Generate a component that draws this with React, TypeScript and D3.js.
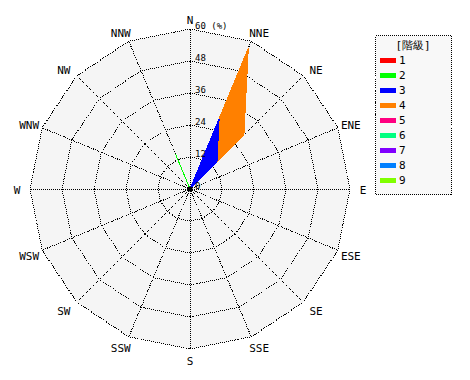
import React from "react";
import * as d3 from "d3";

const directions = ["N","NNE","NE","ENE","E","ESE","SE","SSE","S","SSW","SW","WSW","W","WNW","NW","NNW"];
const classLabels = ["1","2","3","4","5","6","7","8","9"];
const classColors = ["#ff0000","#00ff00","#0000ff","#ff8000","#ff0080","#00ff80","#8000ff","#0080ff","#80ff00"];
const ringTicks = [12, 24, 36, 48, 60];
const class1 = [0,0,0,0,0,0,0,0,0,0,0,0,0,0,0,0];
const class2 = [0,0,0,0,0,0,0,0,0,0,0,0,0,0,0,14.29];
const class3 = [0,28.57,14.29,0,0,0,0,0,0,0,0,0,0,0,0,0];
const class4 = [0,28.57,14.29,0,0,0,0,0,0,0,0,0,0,0,0,0];
const class5 = [0,0,0,0,0,0,0,0,0,0,0,0,0,0,0,0];
const class6 = [0,0,0,0,0,0,0,0,0,0,0,0,0,0,0,0];
const class7 = [0,0,0,0,0,0,0,0,0,0,0,0,0,0,0,0];
const class8 = [0,0,0,0,0,0,0,0,0,0,0,0,0,0,0,0];
const class9 = [0,0,0,0,0,0,0,0,0,0,0,0,0,0,0,0];
const classValues = [class1, class2, class3, class4, class5, class6, class7, class8, class9];

const CX = 190, CY = 189, R = 160;
const MONO = "'DejaVu Sans Mono', monospace";

export default function App() {
  const r = d3.scaleLinear().domain([0, 60]).range([0, R]);
  const ang = d3.scaleLinear().domain([0, 16]).range([0, 2 * Math.PI]);
  const pt = (i: number, v: number): [number, number] => [
    CX + r(v) * Math.sin(ang(i)),
    CY - r(v) * Math.cos(ang(i)),
  ];
  const idx = d3.range(16);
  const ringPath = (v: number) =>
    "M" + idx.map((i) => pt(i, v).join(",")).join("L") + "Z";

  const cum: number[][] = [];
  classValues.forEach((vals, k) => {
    cum.push(vals.map((v, i) => v + (k > 0 ? cum[k - 1][i] : 0)));
  });
  const radial = d3
    .lineRadial<number>()
    .angle((_, i) => ang(i))
    .radius((d) => r(d))
    .curve(d3.curveLinearClosed);

  const dotted = { stroke: "#000", strokeWidth: 1, strokeDasharray: "1,1", fill: "none", shapeRendering: "crispEdges" as const };

  return (
    <svg width={470} height={380} style={{ position: "absolute", left: 0, top: 0, background: "#fff" }}>
      <path d={ringPath(60)} fill="#f5f5f5" />
      {ringTicks.map((t) => (
        <path key={t} d={ringPath(t)} {...dotted} />
      ))}
      {idx.map((i) => {
        const [x, y] = pt(i, 60);
        return <line key={i} x1={CX} y1={CY} x2={x} y2={y} {...dotted} />;
      })}
      <g transform={`translate(${CX},${CY})`}>
        {d3.range(8, -1, -1).map((k) =>
          classValues[k].some((v) => v > 0) ? (
            <path
              key={k}
              d={radial(cum[k]) || ""}
              fill={classColors[k]}
              stroke={classColors[k]}
              strokeWidth={1}
              shapeRendering="crispEdges"
            />
          ) : null
        )}
      </g>
      <circle cx={CX} cy={CY} r={2.5} fill="#000" />
      {[0, 12, 24, 36, 48].map((t) => (
        <text key={t} x={CX + 5} y={CY - r(t)} fontFamily={MONO} fontSize={9} fill="#000">
          {t}
        </text>
      ))}
      <text x={CX + 5} y={CY - r(60)} fontFamily={MONO} fontSize={9} fill="#000">
        60 (%)
      </text>
      {directions.map((d, i) => {
        const a = ang(i);
        const s = Math.sin(a), c = Math.cos(a);
        const [vx, vy] = pt(i, 60);
        const x = vx + 13 * Math.sign(Math.round(s * 100) / 100) * Math.min(1, Math.abs(s) * 1.6);
        const y = vy - 10.5 * c + 1.5;
        return (
          <text key={d} x={x} y={y} dy="0.35em" textAnchor="middle" fontFamily={MONO} fontSize={11} fill="#000">
            {d}
          </text>
        );
      })}
      <rect x={375.5} y={35.5} width={76} height={159} fill="#f8f8f8" {...{ stroke: "#000", strokeWidth: 1, strokeDasharray: "1,1", shapeRendering: "crispEdges" }} />
      <text x={413} y={45} dy="0.35em" textAnchor="middle" fontFamily={MONO} fontSize={11} fill="#000">
        [階級]
      </text>
      {classLabels.map((l, k) => (
        <g key={l}>
          <rect x={380} y={60 + k * 15 - 2} width={16} height={5} fill={classColors[k]} />
          <text x={399} y={60 + k * 15} dy="0.35em" fontFamily={MONO} fontSize={11} fill="#000">
            {l}
          </text>
        </g>
      ))}
    </svg>
  );
}
